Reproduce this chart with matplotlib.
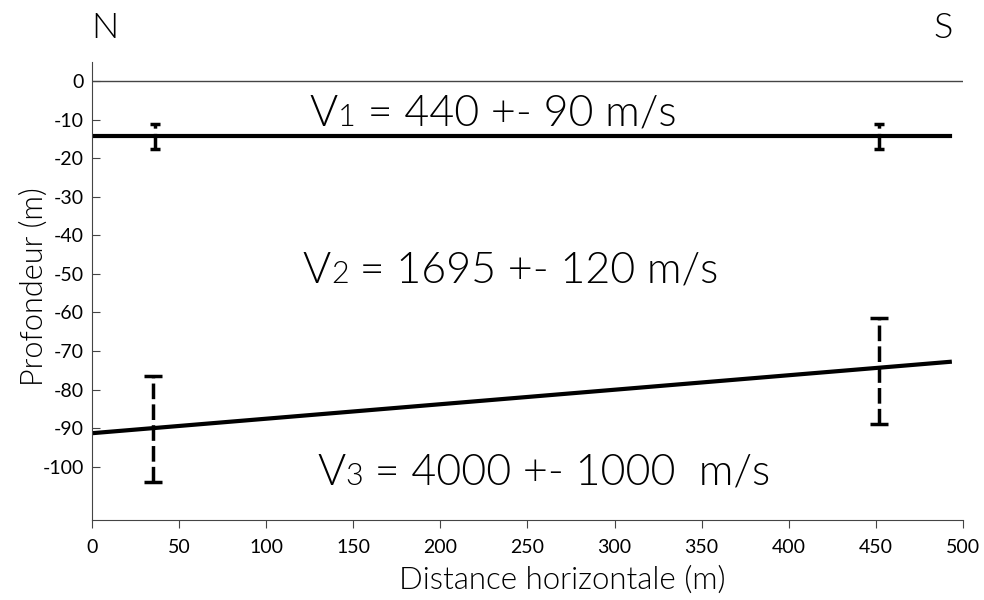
import matplotlib
matplotlib.use("Agg")
import matplotlib.pyplot as plt
from matplotlib.transforms import offset_copy

plt.rcParams['font.family'] = ['Lato', 'DejaVu Sans']
plt.rcParams['axes.unicode_minus'] = False

# interfaces
x_layer1 = [0, 492.5]
y_layer1 = [-14.3, -14.3]
x_layer2 = [0, 492.5]
y_layer2 = [-91.3, -72.8]

# error bars (position, top, bottom)
err_x = [36, 452]
err1_top = [-11.2, -11.2]
err1_bot = [-17.6, -17.6]
err2_x = [35, 452]
err2_top = [-76.5, -61.5]
err2_bot = [-103.9, -88.9]

# velocity labels: subscript + rest of text
lab_sub = ['1', '2', '3']
lab_rest = [' = 440 +- 90 m/s', ' = 1695 +- 120 m/s', ' = 4000 +- 1000  m/s']
label_x = [125, 121, 129.6]
label_y = [-11.6, -52.3, -104.7]

xticks = list(range(0, 501, 50))
yticks = list(range(0, -101, -10))

W = 300  # text weight

fig = plt.figure(figsize=(9.84, 6), dpi=100)
ax = fig.add_axes([0.0935, 0.1333, 0.885, 0.7633])

ax.axhline(0, color='#444444', lw=1)
ax.plot(x_layer1, y_layer1, color='black', lw=3)
ax.plot(x_layer2, y_layer2, color='black', lw=3)


def draw_err(xs, top, bot, capsize):
    mid = [(t + b) / 2 for t, b in zip(top, bot)]
    half = [(t - b) / 2 for t, b in zip(top, bot)]
    eb = ax.errorbar(xs, mid, yerr=half, fmt='none', ecolor='black',
                     elinewidth=2.5, capsize=capsize, capthick=2.5)
    eb[2][0].set_linestyle((0, (4.5, 1.5)))


draw_err(err_x, err1_top, err1_bot, 3.5)
draw_err(err2_x, err2_top, err2_bot, 6.5)

renderer = fig.canvas.get_renderer()
for sub, rest, x, y in zip(lab_sub, lab_rest, label_x, label_y):
    shift = 0
    for part, size in [('V', 31), (sub, 22), (rest, 31)]:
        tr = offset_copy(ax.transData, fig=fig, x=shift, y=0, units='dots')
        t = ax.text(x, y, part, fontsize=size, fontweight=W, va='baseline',
                    ha='left', transform=tr)
        shift += t.get_window_extent(renderer).width

ax.set_xlim(0, 500)
ax.set_ylim(-113.8, 4.9)
ax.set_xticks(xticks)
ax.set_yticks(yticks)
ax.tick_params(axis='x', direction='out', length=6, pad=8, labelsize=14,
               colors='#444444', labelcolor='black')
ax.tick_params(axis='y', direction='in', length=6, pad=6, labelsize=14,
               colors='#444444', labelcolor='black')
for s in ['top', 'right']:
    ax.spines[s].set_visible(False)
for s in ['left', 'bottom']:
    ax.spines[s].set_color('#444444')

ax.set_xlabel('Distance horizontale (m)', fontsize=22.5, fontweight=W)
ax.xaxis.set_label_coords(0.54, -0.1)
ax.set_ylabel('Profondeur (m)', fontsize=22, fontweight=W)
ax.yaxis.set_label_coords(-0.05, 0.51)

fig.text(0.107, 0.953, 'N', fontsize=26, fontweight=W, ha='center', va='center')
fig.text(0.958, 0.953, 'S', fontsize=26, fontweight=W, ha='center', va='center')

fig.savefig('out.png', dpi=100)
